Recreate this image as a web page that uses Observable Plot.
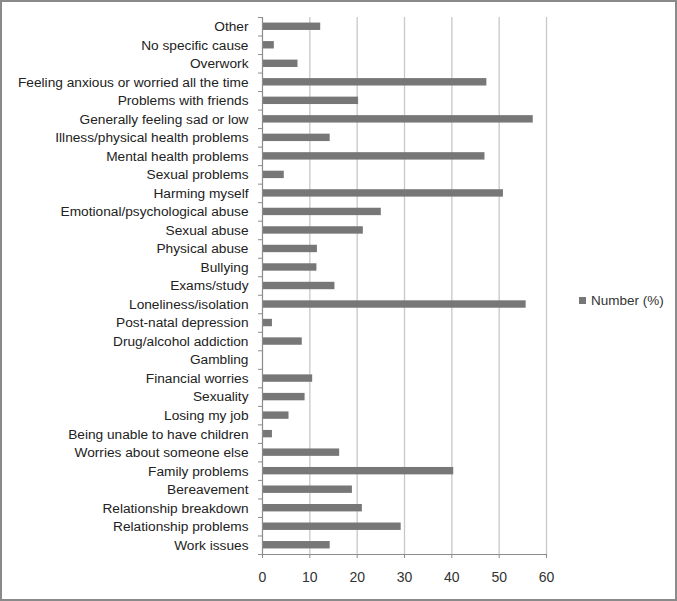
<!DOCTYPE html>
<html>
<head>
<meta charset="utf-8">
<script src="https://cdn.jsdelivr.net/npm/d3@7"></script>
<script src="https://cdn.jsdelivr.net/npm/@observablehq/plot@0.6"></script>
<style>
  html, body { margin: 0; padding: 0; background: #fff; }
  #wrap { position: relative; width: 677px; height: 601px; overflow: hidden; font-family: "Liberation Sans", Arial, sans-serif; }
  #border { position: absolute; left: 0; top: 0; width: 677px; height: 601px; box-sizing: border-box; border: 2px solid #8a8a8a; pointer-events: none; }
  #legend { position: absolute; left: 579px; top: 293px; font-size: 13.5px; color: #333; display: flex; align-items: center; white-space: nowrap; }
  #legend .sw { width: 7px; height: 7px; background: #777; margin-right: 5px; }
</style>
</head>
<body>
<div id="wrap">
  <div id="chart"></div>
  <div id="legend"><span class="sw"></span><span>Number (%)</span></div>
  <div id="border"></div>
</div>
<script>
const categories = [
  "Other",
  "No specific cause",
  "Overwork",
  "Feeling anxious or worried all the time",
  "Problems with friends",
  "Generally feeling sad or low",
  "Illness/physical health problems",
  "Mental health problems",
  "Sexual problems",
  "Harming myself",
  "Emotional/psychological abuse",
  "Sexual abuse",
  "Physical abuse",
  "Bullying",
  "Exams/study",
  "Loneliness/isolation",
  "Post-natal depression",
  "Drug/alcohol addiction",
  "Gambling",
  "Financial worries",
  "Sexuality",
  "Losing my job",
  "Being unable to have children",
  "Worries about someone else",
  "Family problems",
  "Bereavement",
  "Relationship breakdown",
  "Relationship problems",
  "Work issues"
];
const values = [
  12.3, 2.5, 7.5, 47.4, 20.3, 57.2, 14.3, 47.0, 4.6, 50.9,
  25.1, 21.3, 11.6, 11.5, 15.3, 55.7, 2.1, 8.4, 0.2, 10.6,
  9.0, 5.6, 2.1, 16.3, 40.4, 19.0, 21.1, 29.3, 14.3
];
const xTicks = [0, 10, 20, 30, 40, 50, 60];
const gridTicks = [10, 20, 30, 40, 50, 60];
const seriesName = "Number (%)";

const data = categories.map((c, i) => ({category: c, value: values[i]}));

const W = 677, H = 601;
const mTop = 17, mBottom = 47, mLeft = 262, mRight = 131;
const step = (H - mTop - mBottom) / categories.length;

const plot = Plot.plot({
  width: W,
  height: H,
  marginTop: mTop,
  marginBottom: mBottom,
  marginLeft: mLeft,
  marginRight: mRight,
  style: {fontFamily: "Liberation Sans, Arial, sans-serif", background: "transparent", overflow: "visible"},
  x: {domain: [0, 60]},
  y: {domain: categories, paddingInner: 0.6, paddingOuter: 0.3, round: false},
  marks: [
    Plot.ruleX(gridTicks, {stroke: "#c8c8c8", strokeWidth: 1.3}),
    Plot.barX(data, {x: "value", y: "category", fill: "#777777"}),
    Plot.ruleX([0], {stroke: "#8c8c8c", strokeWidth: 1.2}),
    Plot.frame({anchor: "bottom", stroke: "#8c8c8c", strokeWidth: 1.2}),
    Plot.axisY({tickSize: 0, tickPadding: 14, fontSize: 13.7, fill: "#222", label: null}),
    Plot.axisY({tickSize: 4, text: null, label: null, stroke: "#8c8c8c", dy: step / 2}),
    Plot.axisY({ticks: categories.slice(0, 1), tickSize: 4, text: null, label: null, stroke: "#8c8c8c", dy: -step / 2}),
    Plot.axisX({ticks: xTicks, tickSize: 4, tickPadding: 14, fontSize: 14, fill: "#333", stroke: "#8c8c8c", label: null})
  ]
});
document.getElementById("chart").appendChild(plot);
document.getElementById("legend").lastElementChild.textContent = seriesName;
</script>
</body>
</html>
